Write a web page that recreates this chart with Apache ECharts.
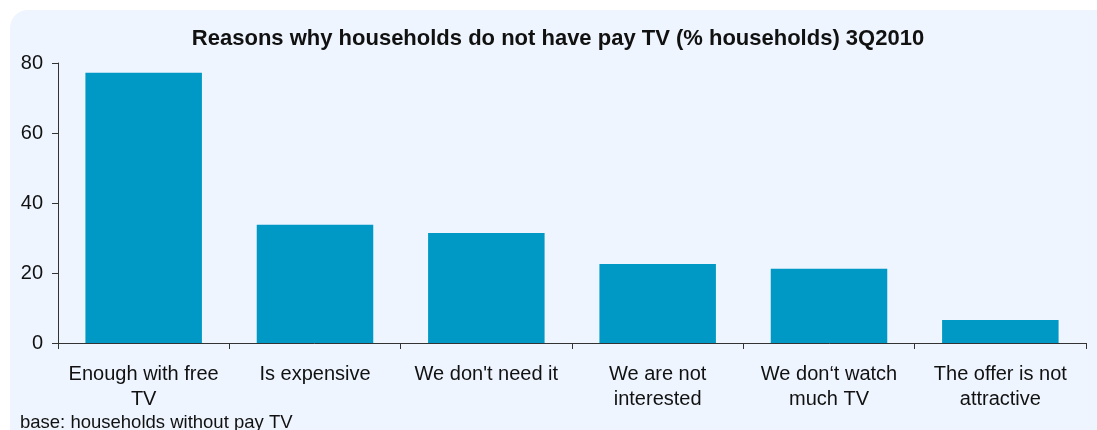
<!DOCTYPE html>
<html>
<head>
<meta charset="utf-8">
<script src="https://cdn.jsdelivr.net/npm/echarts@6/dist/echarts.min.js"></script>
<style>
  html, body { margin: 0; padding: 0; background: #fff; }
  #chart { width: 1097px; height: 430px; }
</style>
</head>
<body>
<div id="chart"></div>
<script>
  var categories = ['Enough with free\nTV', 'Is expensive', "We don't need it", 'We are not\ninterested', 'We don\u2018t watch\nmuch TV', 'The offer is not\nattractive'];
  var shares = [77.2, 33.8, 31.4, 22.6, 21.2, 6.6];
  var yTicks = [0, 20, 40, 60, 80];

  var chartDom = document.getElementById('chart');
  var myChart = echarts.init(chartDom, null, { renderer: 'canvas' });

  var option = {
    backgroundColor: '#ffffff',
    animation: false,
    graphic: [{
      type: 'rect',
      z: -10,
      shape: { x: 10, y: 10, width: 1120, height: 440, r: 18 },
      style: { fill: '#EEF5FE' }
    }, {
      type: 'text',
      left: 20,
      top: 413,
      style: {
        text: 'base: households without pay TV',
        font: '18.5px "Liberation Sans", Arial, sans-serif',
        fill: '#111'
      }
    }],
    title: {
      text: 'Reasons why households do not have pay TV (% households) 3Q2010',
      left: 553,
      textAlign: 'center',
      top: 23,
      textStyle: {
        fontFamily: '"Liberation Sans", Arial, sans-serif',
        fontSize: 22,
        fontWeight: 'bold',
        color: '#111'
      }
    },
    grid: { left: 58, right: 11, top: 63, bottom: 87 },
    xAxis: {
      type: 'category',
      data: categories,
      axisLine: { lineStyle: { color: '#333', width: 1 } },
      axisTick: { show: true, length: 6, lineStyle: { color: '#333' } },
      axisLabel: {
        interval: 0,
        margin: 19,
        lineHeight: 25,
        fontFamily: '"Liberation Sans", Arial, sans-serif',
        fontSize: 20,
        color: '#111'
      }
    },
    yAxis: {
      type: 'value',
      min: yTicks[0],
      max: yTicks[yTicks.length - 1],
      interval: 20,
      splitLine: { show: false },
      axisLine: { show: true, lineStyle: { color: '#333', width: 1 } },
      axisTick: { show: true, length: 6, lineStyle: { color: '#333' } },
      axisLabel: {
        margin: 15,
        fontFamily: '"Liberation Sans", Arial, sans-serif',
        fontSize: 20,
        color: '#111'
      }
    },
    series: [{
      name: 'share',
      type: 'bar',
      data: shares,
      barWidth: '68%',
      itemStyle: { color: '#0099C5' }
    }]
  };

  myChart.setOption(option);
  window.addEventListener('resize', myChart.resize);
</script>
</body>
</html>
